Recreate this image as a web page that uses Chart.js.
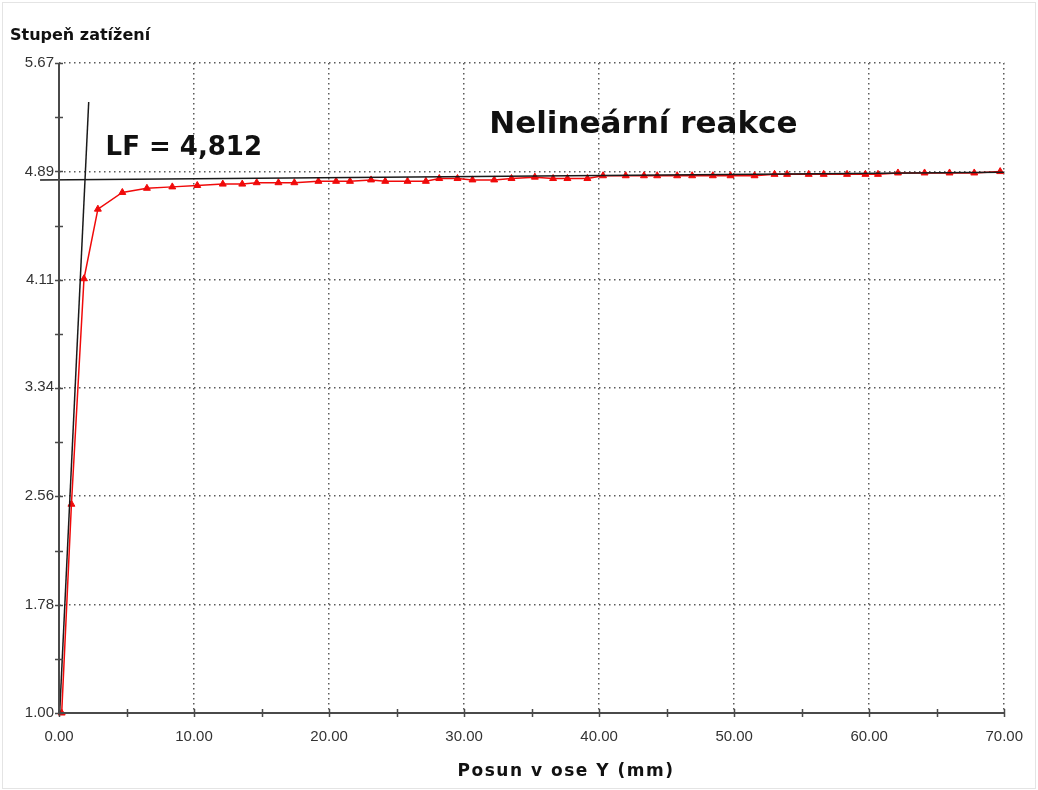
<!DOCTYPE html>
<html lang="cs">
<head>
    <meta charset="UTF-8">
    <title>Stupeň zatížení</title>
    <script src="https://cdn.jsdelivr.net/npm/chart.js@4/dist/chart.umd.min.js"></script>
    <style>
        html, body { margin: 0; padding: 0; background: #fff; }
        #wrap { position: relative; width: 1038px; height: 790px; }
        #wrap::after { content: ''; position: absolute; left: 2px; top: 2px; width: 1032px; height: 785px; border: 1px solid #e4e4e4; pointer-events: none; }
    </style>
</head>
<body>
    <div id="wrap">
        <canvas id="lfChart" width="1038" height="790"></canvas>
    </div>

    <script>
        // Posun v ose Y (mm) vs. stupen zatizeni
        const posun = [0.2, 0.92, 1.85, 2.88, 4.69, 6.51, 8.39, 10.24, 12.13, 13.57,
            14.64, 16.25, 17.43, 19.21, 20.52, 21.55, 23.11, 24.16, 25.81, 27.17,
            28.16, 29.51, 30.62, 32.23, 33.51, 35.24, 36.59, 37.65, 39.13, 40.29,
            41.97, 43.32, 44.3, 45.78, 46.89, 48.42, 49.73, 51.51, 52.99, 53.92,
            55.52, 56.63, 58.36, 59.72, 60.65, 62.13, 64.1, 65.95, 67.78, 69.7];
        const stupen = [1.00, 2.50, 4.12, 4.62, 4.74, 4.77, 4.78, 4.79, 4.80, 4.80,
            4.81, 4.81, 4.81, 4.82, 4.82, 4.82, 4.83, 4.82, 4.82, 4.82,
            4.84, 4.84, 4.83, 4.83, 4.84, 4.85, 4.84, 4.84, 4.84, 4.86,
            4.86, 4.86, 4.86, 4.86, 4.86, 4.86, 4.86, 4.86, 4.87, 4.87,
            4.87, 4.87, 4.87, 4.87, 4.87, 4.88, 4.88, 4.88, 4.88, 4.89];

        // tecna na pocatku a vodorovna cara LF
        const tecnaX = [0.05, 2.2];
        const tecnaY = [1.00, 5.39];
        const lfX = [-1.4, 70];
        const lfY = [4.83, 4.885];

        // osy
        const xTicks = [0, 10, 20, 30, 40, 50, 60, 70];
        const yTicks = [1.00, 1.78, 2.56, 3.34, 4.11, 4.89, 5.67];

        // popisky
        const yTitle = 'Stupeň zatížení';
        const xTitle = 'Posun v ose Y (mm)';
        const poznamky = [
            { text: 'LF = 4,812', x: 3.45, y: 5.01, size: 26 },
            { text: 'Nelineární reakce', x: 31.86, y: 5.17, size: 31 }
        ];

        const toPoints = (xs, ys) => xs.map((v, i) => ({ x: v, y: ys[i] }));

        // osy s malymi carkami, titulky a poznamky
        const osyPlugin = {
            id: 'osy',
            afterDatasetsDraw(chart) {
                const { ctx, scales: { x, y } } = chart;
                ctx.save();

                // hlavni cary os
                ctx.strokeStyle = '#4a4a4a';
                ctx.lineWidth = 2;
                ctx.beginPath();
                ctx.moveTo(x.left, y.top);
                ctx.lineTo(x.left, y.bottom);
                ctx.lineTo(x.right, y.bottom);
                ctx.stroke();

                // carky na osach (hlavni i polovicni)
                const xt = [], yt = [];
                xTicks.forEach((v, i) => { xt.push(v); if (i < xTicks.length - 1) xt.push((v + xTicks[i + 1]) / 2); });
                const yStep = (yTicks[yTicks.length - 1] - yTicks[0]) / (yTicks.length - 1);
                for (let i = 0; i <= (yTicks.length - 1) * 2; i++) yt.push(yTicks[0] + i * yStep / 2);
                ctx.lineWidth = 1.5;
                ctx.beginPath();
                xt.forEach(v => {
                    const px = Math.round(x.getPixelForValue(v)) + 0.5;
                    ctx.moveTo(px, y.bottom - 4);
                    ctx.lineTo(px, y.bottom + 4);
                });
                yt.forEach(v => {
                    const py = Math.round(y.getPixelForValue(v)) + 0.5;
                    ctx.moveTo(x.left - 4, py);
                    ctx.lineTo(x.left + 4, py);
                });
                ctx.stroke();

                // titulky os
                ctx.fillStyle = '#111';
                ctx.textBaseline = 'alphabetic';
                ctx.font = 'bold 16px "DejaVu Sans"';
                ctx.letterSpacing = '0px';
                ctx.textAlign = 'left';
                ctx.fillText(yTitle, 10, 40);
                ctx.font = 'bold 17px "DejaVu Sans"';
                ctx.letterSpacing = '1.5px';
                ctx.textAlign = 'center';
                ctx.fillText(xTitle, 566, 776);

                // poznamky v grafu
                ctx.letterSpacing = '0px';
                ctx.textAlign = 'left';
                poznamky.forEach(p => {
                    ctx.font = 'bold ' + p.size + 'px "DejaVu Sans"';
                    ctx.fillText(p.text, x.getPixelForValue(p.x), y.getPixelForValue(p.y));
                });
                ctx.restore();
            }
        };

        Chart.defaults.font.family = '"Liberation Sans", Arial, sans-serif';

        const gridColor = c => c.index === 0 ? 'rgba(0,0,0,0)' : '#5a5a5a';

        new Chart(document.getElementById('lfChart'), {
            type: 'line',
            data: {
                datasets: [
                    {
                        label: 'LF',
                        data: toPoints(lfX, lfY),
                        borderColor: '#1a1a1a',
                        borderWidth: 1.5,
                        pointRadius: 0,
                        clip: false
                    },
                    {
                        label: 'Tečna',
                        data: toPoints(tecnaX, tecnaY),
                        borderColor: '#1a1a1a',
                        borderWidth: 1.5,
                        pointRadius: 0,
                        clip: false
                    },
                    {
                        label: 'Nelineární reakce',
                        data: toPoints(posun, stupen),
                        borderColor: '#f00a0a',
                        backgroundColor: '#f00a0a',
                        borderWidth: 1.5,
                        pointStyle: 'triangle',
                        pointRadius: 4,
                        pointBorderWidth: 1,
                        clip: false
                    }
                ]
            },
            options: {
                responsive: false,
                animation: false,
                layout: { padding: { top: 63, right: 32, left: 0, bottom: 0 } },
                plugins: { legend: { display: false }, tooltip: { enabled: false } },
                scales: {
                    x: {
                        type: 'linear',
                        min: 0,
                        max: 70,
                        afterBuildTicks: s => { s.ticks = xTicks.map(v => ({ value: v })); },
                        afterFit: s => { s.height = 77; },
                        grid: { color: gridColor, lineWidth: 1.5, drawTicks: false },
                        border: { display: false, dash: [1.5, 3.5] },
                        ticks: {
                            padding: 15,
                            color: '#333',
                            font: { size: 15 },
                            maxRotation: 0,
                            callback: v => Number(v).toFixed(2)
                        }
                    },
                    y: {
                        type: 'linear',
                        min: 1.00,
                        max: 5.67,
                        afterBuildTicks: s => { s.ticks = yTicks.map(v => ({ value: v })); },
                        afterFit: s => { s.width = 59; },
                        grid: { color: gridColor, lineWidth: 1.5, drawTicks: false },
                        border: { display: false, dash: [1.5, 3.5] },
                        ticks: {
                            padding: 5,
                            color: '#333',
                            font: { size: 15 },
                            callback: (v, i) => yTicks[i].toFixed(2)
                        }
                    }
                }
            },
            plugins: [osyPlugin]
        });
    </script>
</body>
</html>
